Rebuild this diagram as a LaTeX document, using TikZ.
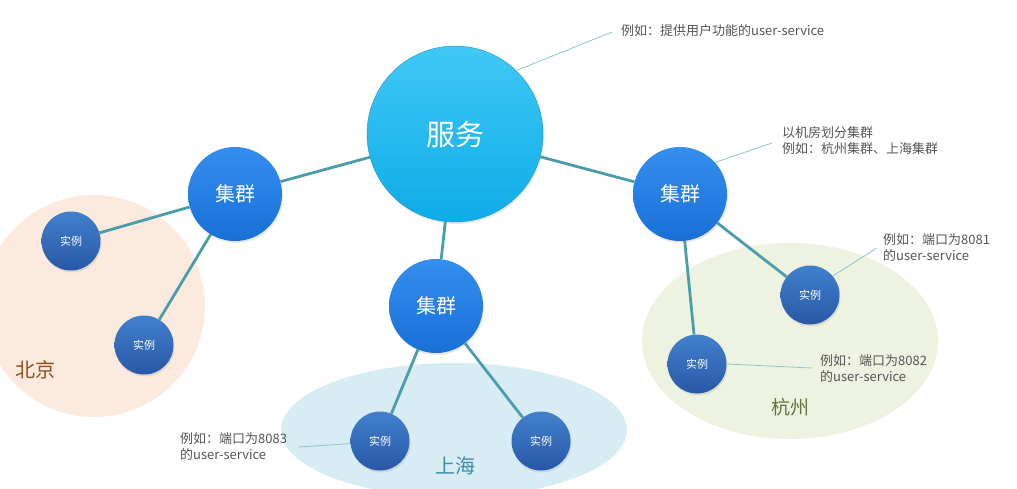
\documentclass[tikz,border=0pt]{standalone}
\usepackage{fontspec}
\setmainfont{Noto Sans CJK SC}
\usetikzlibrary{shadows}
\definecolor{conn}{HTML}{4A9DAA}
\definecolor{annline}{HTML}{8CC3CC}
\definecolor{anntext}{HTML}{555555}
\definecolor{bjfill}{HTML}{FCEADF}
\definecolor{shfill}{HTML}{D8ECF4}
\definecolor{hzfill}{HTML}{EEF2E0}
\definecolor{svctop}{HTML}{40C8F5}
\definecolor{svcbot}{HTML}{0EACE8}
\definecolor{svcdraw}{HTML}{1E96C8}
\definecolor{cltop}{HTML}{348EEE}
\definecolor{clbot}{HTML}{1870D6}
\definecolor{intop}{HTML}{4280CC}
\definecolor{inbot}{HTML}{2858A6}
\definecolor{bjtext}{HTML}{8C501E}
\definecolor{shtext}{HTML}{3C91AA}
\definecolor{hztext}{HTML}{64733C}
\tikzset{
  svcnode/.style={circle, minimum size=176pt, inner sep=0pt, top color=svctop, bottom color=svcbot, draw=svcdraw, line width=0.4pt, text=white, font=\fontsize{29}{31}\selectfont, drop shadow={opacity=0.18, shadow xshift=1pt, shadow yshift=-2pt}},
  clnode/.style={circle, minimum size=94pt, inner sep=0pt, top color=cltop, bottom color=clbot, text=white, font=\fontsize{20}{22}\selectfont, drop shadow={opacity=0.18, shadow xshift=1pt, shadow yshift=-2pt}},
  instnode/.style={circle, minimum size=59pt, inner sep=0pt, top color=intop, bottom color=inbot, text=white, font=\fontsize{11}{12}\selectfont, drop shadow={opacity=0.18, shadow xshift=1pt, shadow yshift=-2pt}},
  connector/.style={draw=conn, line width=2.8pt},
  annconn/.style={draw=annline, line width=0.8pt},
  anntxt/.style={anchor=west, inner sep=0pt, align=left, text=anntext, font=\fontsize{13}{16}\selectfont},
  region/.style={inner sep=0pt, font=\fontsize{20}{22}\selectfont},
  ghost/.style={circle, inner sep=0pt},
}
\begin{document}
\begin{tikzpicture}[x=1pt,y=-1pt]
\useasboundingbox (0,0) rectangle (1017,488);
\fill[white] (0,0) rectangle (1017,488);
% regions
\begin{scope}
\clip (0,0) rectangle (1017,488);
\fill[bjfill] (94,306) circle (111);
\fill[shfill] (454,430) ellipse (173 and 67);
\fill[hzfill] (790,341) ellipse (148 and 98);
\end{scope}
\node[region, text=bjtext] (bj) at (35,370) {北京};
\node[region, text=shtext] (sh) at (455,466) {上海};
\node[region, text=hztext, font=\fontsize{19}{21}\selectfont] (hz) at (790,407) {杭州};
% ghost nodes for connectors (below circles)
\node[ghost, minimum size=176pt] (svc0) at (455,134) {};
\node[ghost, minimum size=94pt] (c10) at (235,194) {};
\node[ghost, minimum size=94pt] (c20) at (436,306) {};
\node[ghost, minimum size=94pt] (c30) at (680,194) {};
\node[ghost, minimum size=59pt] (i10) at (71,241) {};
\node[ghost, minimum size=59pt] (i20) at (144,345) {};
\node[ghost, minimum size=59pt] (i30) at (380,441) {};
\node[ghost, minimum size=59pt] (i40) at (541,441) {};
\node[ghost, minimum size=59pt] (i50) at (810,295) {};
\node[ghost, minimum size=59pt] (i60) at (697,364) {};
\draw[connector] (svc0) -- (c10);
\draw[connector] (svc0) -- (c20);
\draw[connector] (svc0) -- (c30);
\draw[connector] (c10) -- (i10);
\draw[connector] (c10) -- (i20);
\draw[connector] (c20) -- (i30);
\draw[connector] (c20) -- (i40);
\draw[connector] (c30) -- (i50);
\draw[connector] (c30) -- (i60);
% nodes
\node[svcnode] (svc) at (svc0.center) {服务};
\node[clnode] (cl1) at (c10.center) {集群};
\node[clnode] (cl2) at (c20.center) {集群};
\node[clnode] (cl3) at (c30.center) {集群};
\node[instnode] (in1) at (i10.center) {实例};
\node[instnode] (in2) at (i20.center) {实例};
\node[instnode] (in3) at (i30.center) {实例};
\node[instnode] (in4) at (i40.center) {实例};
\node[instnode] (in5) at (i50.center) {实例};
\node[instnode] (in6) at (i60.center) {实例};
% annotations
\coordinate (a1) at (612,32);
\coordinate (a2) at (772,143);
\coordinate (a3) at (877,248);
\coordinate (a4) at (812,368);
\coordinate (a5) at (299,447);
\draw[annconn] (svc.46) -- (a1);
\draw[annconn] (cl3.42) -- (a2);
\draw[annconn] (in5.40) -- (a3);
\draw[annconn] (in6.0) -- (a4);
\draw[annconn] (in3.185) -- (a5);
\node[anntxt] (t1) at (621,31) {例如：提供用户功能的user-service};
\node[anntxt] (t2) at (782,141) {以机房划分集群\\例如：杭州集群、上海集群};
\node[anntxt] (t3) at (883,247) {例如：端口为8081\\的user-service};
\node[anntxt] (t4) at (820,368) {例如：端口为8082\\的user-service};
\node[anntxt] (t5) at (180,446) {例如：端口为8083\\的user-service};
\end{tikzpicture}
\end{document}
